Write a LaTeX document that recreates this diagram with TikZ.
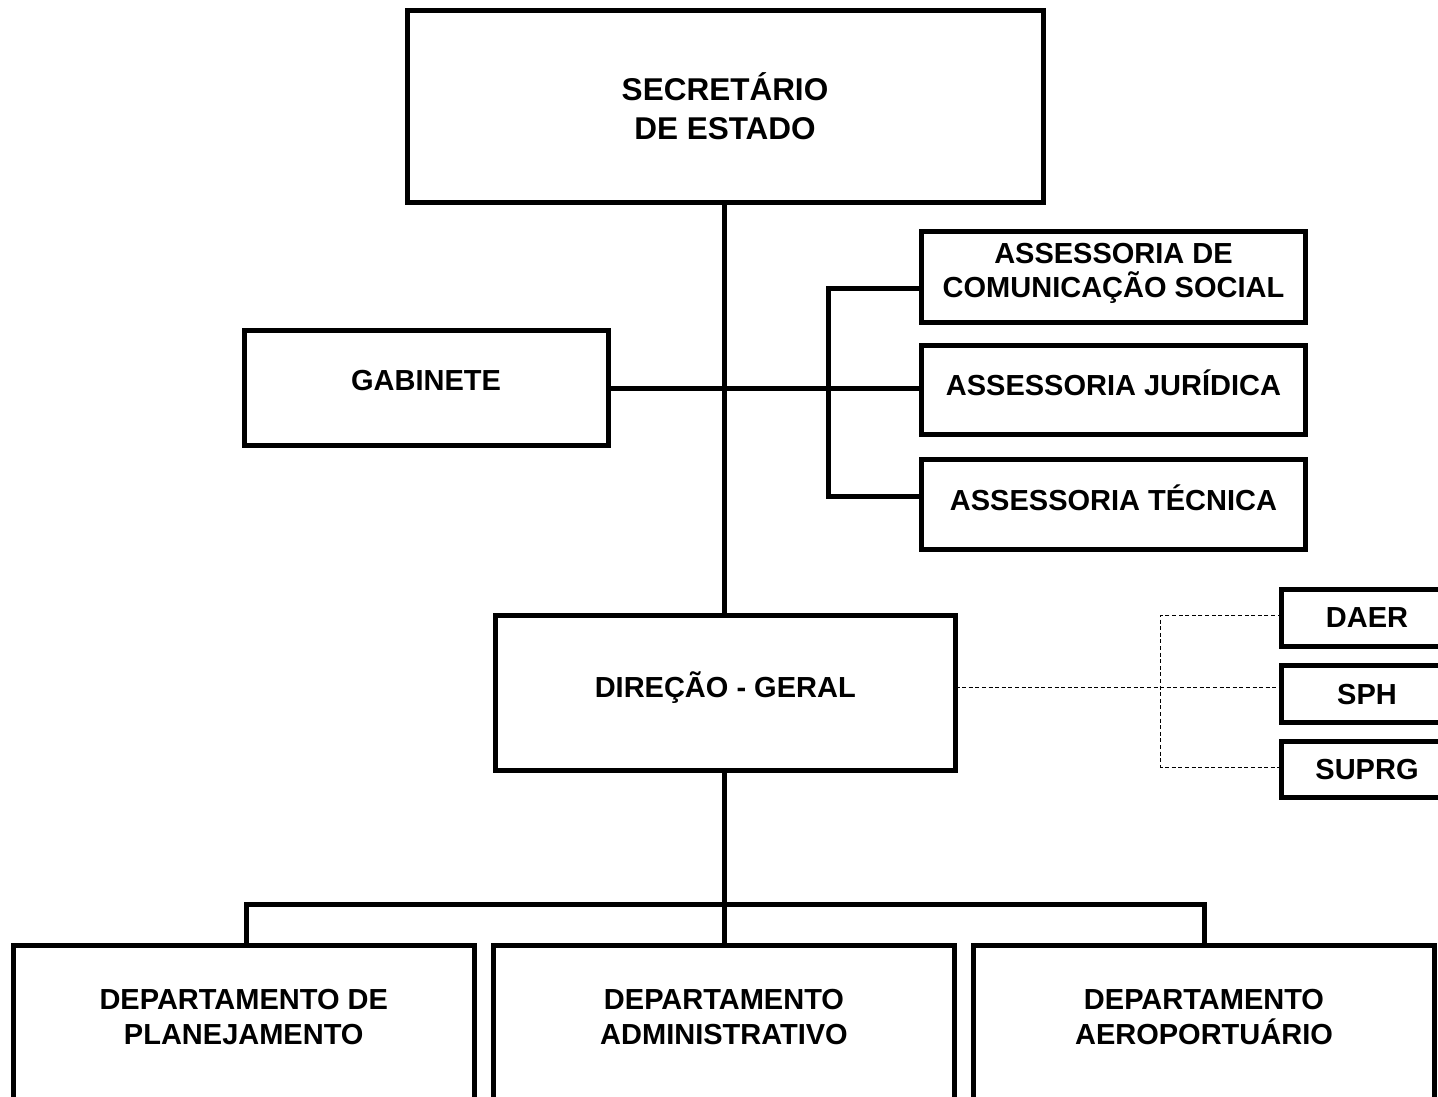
\documentclass[tikz,border=0pt]{standalone}
\usepackage{fontspec}
\setmainfont{Liberation Sans}
\usetikzlibrary{calc}
\begin{document}
\begin{tikzpicture}[x=1pt,y=-1pt,
  box/.style={draw=black,line width=5pt,inner sep=0pt,outer sep=0pt,fill=white},
  lbl/.style={font=\bfseries\fontsize{29}{34.5}\selectfont,align=center,inner sep=0pt},
  link/.style={line width=5pt},
  dlink/.style={line width=1pt,dash pattern=on 4pt off 2.6pt}]
\useasboundingbox[fill=white] (0,0) rectangle (1438,1096);
\begin{scope}
\clip (0,0) rectangle (1438,1096);
% boxes
\node[box,minimum width=636pt,minimum height=192pt] (sec) at (725,106) {};
\node[box,minimum width=364pt,minimum height=115pt] (gab) at (426,388) {};
\node[box,minimum width=384pt,minimum height=90.5pt] (acs) at (1113.5,277) {};
\node[box,minimum width=384pt,minimum height=89.5pt] (aj) at (1113.5,390) {};
\node[box,minimum width=384pt,minimum height=90pt] (at) at (1113.5,504.5) {};
\node[box,minimum width=460.5pt,minimum height=154.5pt] (dg) at (725.25,692.75) {};
\node[box,minimum width=171pt,minimum height=57pt] (daer) at (1367,618) {};
\node[box,minimum width=171pt,minimum height=57pt] (sph) at (1367,694) {};
\node[box,minimum width=171pt,minimum height=56pt] (suprg) at (1367,769.5) {};
\node[box,minimum width=460.5pt,minimum height=170pt] (dp) at (243.75,1030) {};
\node[box,minimum width=461pt,minimum height=170pt] (dad) at (724,1030) {};
\node[box,minimum width=461pt,minimum height=170pt] (dae) at (1204,1030) {};
% labels
\node[lbl,font=\bfseries\fontsize{31.5}{39}\selectfont] (sect) at (725,106) {SECRETÁRIO\\DE ESTADO};
\node[lbl] (gabt) at (426,381) {GABINETE};
\node[lbl] (acst) at (1113.5,273.5) {ASSESSORIA DE\\COMUNICAÇÃO SOCIAL};
\node[lbl] (ajt) at (1113.5,383) {ASSESSORIA JURÍDICA};
\node[lbl] (att) at (1113.5,497.5) {ASSESSORIA TÉCNICA};
\node[lbl] (dgt) at (725.25,687.5) {DIREÇÃO - GERAL};
\node[lbl] (daert) at (1367,618) {DAER};
\node[lbl] (spht) at (1367,695) {SPH};
\node[lbl] (suprgt) at (1367,770) {SUPRG};
\node[lbl] (dpt) at (243.75,1017) {DEPARTAMENTO DE\\PLANEJAMENTO};
\node[lbl] (dadt) at (724,1017) {DEPARTAMENTO\\ADMINISTRATIVO};
\node[lbl] (daet) at (1204,1017) {DEPARTAMENTO\\AEROPORTUÁRIO};
% helper coordinates
\coordinate (tr) at (724,0);
\coordinate (br) at (828.5,0);
\coordinate (dbr) at (1160.7,0);
\coordinate (bar) at (0,904.5);
\coordinate (dpx) at (246.5,0);
\coordinate (daex) at (1204,0);
% connectors
\draw[link] (sec.south -| tr) -- (dg.north -| tr);
\draw[link] (gab.east) -- (aj.west |- gab.east);
\draw[link] ($(acs.west)+(0,11.5)$) -| ($(at.west -| br)+(0,-8.5)$) -- ($(at.west)+(0,-8.5)$);
\draw[link] (dg.south -| tr) -- (dad.north -| tr);
\draw[link] (dpx |- dp.north) -- (dpx |- bar) -- (daex |- bar) -- (daex |- dae.north);
\draw[dlink] ($(dg.east)+(0,-5.75)$) -- ($(sph.west)+(0,-7)$);
\draw[dlink] ($(daer.west)+(0,-3)$) -| ($(suprg.west -| dbr)+(0,-2.5)$) -- ($(suprg.west)+(0,-2.5)$);
\end{scope}
\end{tikzpicture}
\end{document}
